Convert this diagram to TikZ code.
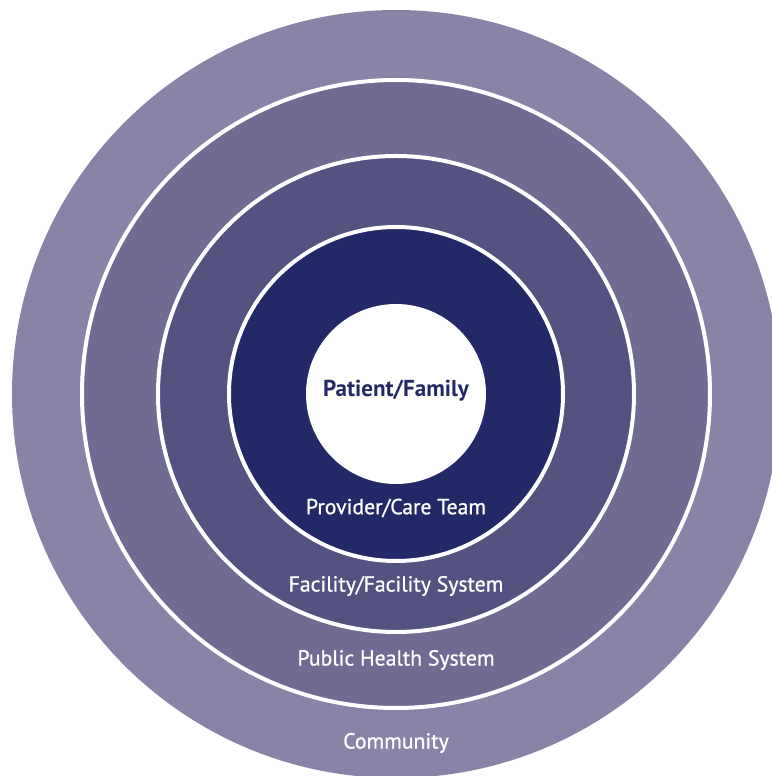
\documentclass[tikz,border=0pt]{standalone}
\usepackage{fontspec}
\setmainfont{PT Sans}
\newfontfamily\lblfont{PT Sans}[BoldFont=PT Sans, BoldFeatures={FakeBold=0.9}]
\definecolor{community}{HTML}{8984A7}
\definecolor{publichealth}{HTML}{6F6B93}
\definecolor{facility}{HTML}{545280}
\definecolor{careteam}{HTML}{232966}

\begin{document}
\begin{tikzpicture}[x=0.75pt, y=0.75pt,
		ring/.style={circle, draw=white, line width=3pt, inner sep=0pt},
		lbl/.style={text=white, inner sep=0pt, font=\fontsize{16.3}{18}\selectfont\lblfont\bfseries}
		]
	\useasboundingbox (0,0) rectangle (772,776);
	\clip (0,0) rectangle (772,776);
	\coordinate (c) at (396,382);
	\node [circle, fill=community, inner sep=0pt, minimum size=576pt] (community) at (c) {};
	\node [ring, fill=publichealth, minimum size=471pt] (publichealth) at (c) {};
	\node [ring, fill=facility, minimum size=357pt] (facility) at (c) {};
	\node [ring, fill=careteam, minimum size=250.5pt] (careteam) at (c) {};
	\node [circle, fill=white, inner sep=0pt, minimum size=135pt] (patient) at (c) {};
	% labels
	\node [lbl, text=careteam, font=\fontsize{17.3}{19}\selectfont\bfseries] (patientlbl) at (396,385) {Patient/Family};
	\node [lbl] (careteamlbl) at (396,268) {Provider/Care Team};
	\node [lbl] (facilitylbl) at (396,190) {Facility/Facility System};
	\node [lbl] (publichealthlbl) at (396,116) {Public Health System};
	\node [lbl] (communitylbl) at (396,33) {Community};
\end{tikzpicture}
\end{document}
